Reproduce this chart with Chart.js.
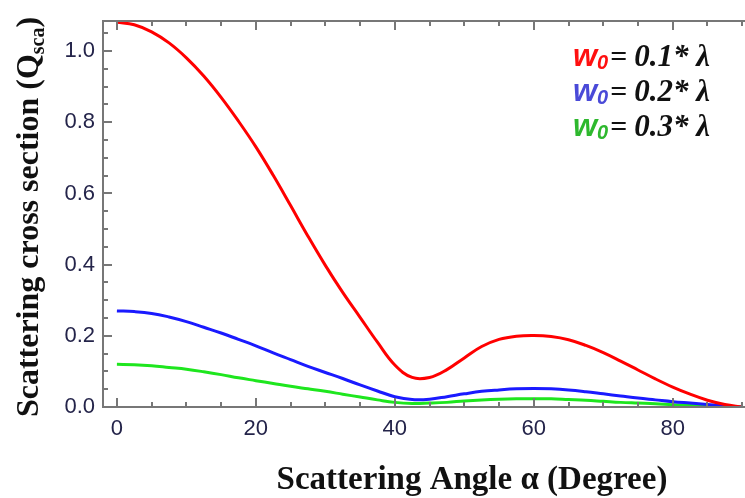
<!DOCTYPE html>
<html lang="en">
<head>
  <meta charset="UTF-8">
  <title>Scattering cross section</title>
  <script src="https://cdn.jsdelivr.net/npm/chart.js"></script>
  <style>
    body { margin: 0; background: #fff; }
    canvas { display: block; }
  </style>
</head>
<body>
  <canvas id="grafico" width="745" height="498"></canvas>

  <script>
    // angles (degree)
    const angles = [0, 2.5, 5, 7.5, 10, 12.5, 15, 17.5, 20, 22.5, 25, 27.5, 30, 32.5, 35, 37.5,
      40, 42.5, 45, 47.5, 50, 52.5, 55, 57.5, 60, 62.5, 65, 67.5, 70, 72.5, 75, 77.5,
      80, 82.5, 85, 87.5, 90];

    // w0 = 0.1 lambda
    const qRed = [1.081, 1.074, 1.054, 1.023, 0.981, 0.930, 0.870, 0.803, 0.731, 0.651, 0.566, 0.480,
      0.398, 0.322, 0.252, 0.182, 0.118, 0.083, 0.083, 0.105, 0.138, 0.170, 0.190, 0.199,
      0.201, 0.198, 0.189, 0.173, 0.153, 0.129, 0.104, 0.079, 0.056, 0.036, 0.019, 0.007, 0];
    // w0 = 0.2 lambda
    const qBlue = [0.270, 0.268, 0.263, 0.253, 0.240, 0.224, 0.208, 0.190, 0.172, 0.152, 0.133, 0.114,
      0.097, 0.080, 0.062, 0.045, 0.029, 0.021, 0.022, 0.029, 0.037, 0.044, 0.048, 0.051,
      0.052, 0.051, 0.048, 0.043, 0.037, 0.031, 0.025, 0.020, 0.015, 0.011, 0.007, 0.003, 0];
    // w0 = 0.3 lambda
    const qGreen = [0.120, 0.119, 0.116, 0.111, 0.106, 0.099, 0.091, 0.082, 0.074, 0.066, 0.058, 0.051,
      0.044, 0.036, 0.028, 0.020, 0.013, 0.010, 0.011, 0.013, 0.017, 0.020, 0.022, 0.023,
      0.023, 0.023, 0.021, 0.019, 0.016, 0.013, 0.011, 0.009, 0.006, 0.004, 0.003, 0.001, 0];

    const xTicks = [0, 20, 40, 60, 80];
    const yTicks = [0, 0.2, 0.4, 0.6, 0.8, 1.0];
    const legendValues = ['0.1', '0.2', '0.3'];
    const legendColors = ['#ff1010', '#4a4ad8', '#2eb82e'];

    const pts = arr => angles.map((a, i) => ({ x: a, y: arr[i] }));

    // frame, minor ticks, titles and legend
    const extras = {
      id: 'extras',
      afterDraw(chart) {
        const ctx = chart.ctx;
        const a = chart.chartArea;
        const xs = chart.scales.x, ys = chart.scales.y;
        const L = Math.round(a.left), T = Math.round(a.top), B = Math.round(a.bottom);
        ctx.save();
        ctx.fillStyle = '#777';
        // frame (no right side)
        ctx.fillRect(L - 1, T - 1, 745 - L + 1, 2);
        ctx.fillRect(L - 1, T - 1, 2, B - T + 2);
        ctx.fillRect(L - 1, B - 1, 745 - L + 1, 2);
        // y ticks every 0.05, long at 0.2
        for (let i = 0; i <= 21; i++) {
          const y = Math.round(ys.getPixelForValue(i * 0.05));
          ctx.fillRect(L, y - 1, i % 4 === 0 ? 9 : 5, 2);
        }
        // x ticks every 5, long at 20, bottom and top
        for (let v = 0; v <= 90; v += 5) {
          const x = Math.round(xs.getPixelForValue(v));
          const len = v % 20 === 0 ? 9 : 5;
          ctx.fillRect(x - 1, B - len, 2, len);
          ctx.fillRect(x - 1, T, 2, len);
        }

        // x title
        ctx.fillStyle = '#111';
        ctx.textBaseline = 'alphabetic';
        ctx.textAlign = 'center';
        ctx.font = 'bold 33px "Liberation Serif"';
        ctx.fillText('Scattering Angle \u03B1 (Degree)', 472, 489);

        // y title with subscript
        ctx.save();
        ctx.translate(38, 217);
        ctx.rotate(-Math.PI / 2);
        ctx.textAlign = 'left';
        const big = 'bold 32px "Liberation Serif"', small = 'bold 20px "Liberation Serif"';
        const p1 = 'Scattering cross section (Q', p2 = 'sca', p3 = ')';
        ctx.font = big; const w1 = ctx.measureText(p1).width, w3 = ctx.measureText(p3).width;
        ctx.font = small; const w2 = ctx.measureText(p2).width;
        const x0 = -(w1 + w2 + w3) / 2;
        ctx.font = big; ctx.fillText(p1, x0, 0);
        ctx.font = small; ctx.fillText(p2, x0 + w1, 6);
        ctx.font = big; ctx.fillText(p3, x0 + w1 + w2, 0);
        ctx.restore();

        // legend
        ctx.textAlign = 'left';
        legendValues.forEach((val, i) => {
          const y = 66 + i * 35;
          let x = 573;
          ctx.fillStyle = legendColors[i];
          ctx.font = 'italic bold 31px "Liberation Sans"';
          ctx.fillText('w', x, y);
          x += ctx.measureText('w').width;
          ctx.font = 'italic bold 20px "Liberation Sans"';
          ctx.fillText('0', x, y + 3);
          x += ctx.measureText('0').width;
          ctx.fillStyle = '#111';
          ctx.font = 'bold 30px "Liberation Serif"';
          ctx.fillText('=', x + 2, y);
          x += ctx.measureText('=').width + 9;
          ctx.font = 'italic bold 31px "Liberation Serif"';
          ctx.fillText(val + '* \u03BB', x, y);
        });
        ctx.restore();
      }
    };

    const mk = (label, data, color) => ({
      label, data: pts(data), borderColor: color, borderWidth: 3,
      pointRadius: 0, tension: 0.4, fill: false
    });

    new Chart(document.getElementById('grafico'), {
      type: 'line',
      data: {
        datasets: [
          mk('w0=0.1*λ', qRed, '#ff0000'),
          mk('w0=0.2*λ', qBlue, '#1a1aff'),
          mk('w0=0.3*λ', qGreen, '#1ee61e')
        ]
      },
      options: {
        responsive: false,
        animation: false,
        layout: { padding: { top: 14, right: 0, left: 0, bottom: 0 } },
        plugins: { legend: { display: false }, tooltip: { enabled: false } },
        scales: {
          x: {
            type: 'linear', min: -2, max: 90.4,
            afterFit: s => { s.height = 91; },
            afterBuildTicks: s => { s.ticks = xTicks.map(v => ({ value: v })); },
            grid: { display: false, drawTicks: false }, border: { display: false },
            ticks: { font: { family: 'Liberation Sans', size: 22 }, color: '#24244a', padding: 9, maxRotation: 0 }
          },
          y: {
            min: 0, max: 1.084,
            afterFit: s => { s.width = 103; },
            afterBuildTicks: s => { s.ticks = yTicks.map(v => ({ value: v })); },
            grid: { display: false, drawTicks: false }, border: { display: false },
            ticks: { font: { family: 'Liberation Sans', size: 22 }, color: '#24244a', padding: 8,
              callback: v => v.toFixed(1) }
          }
        }
      },
      plugins: [extras]
    });
  </script>
</body>
</html>
